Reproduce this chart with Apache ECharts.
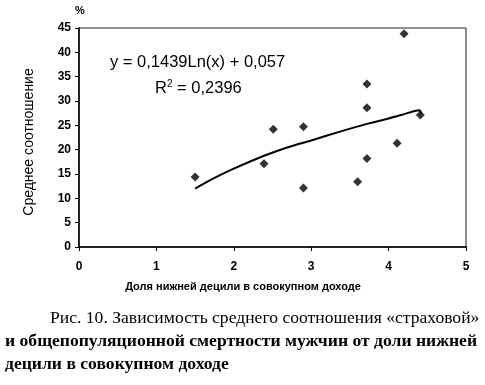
<!DOCTYPE html>
<html><head><meta charset="utf-8">
<script src="https://cdn.jsdelivr.net/npm/echarts@6/dist/echarts.min.js"></script>
<style>html,body{margin:0;padding:0;background:#fff}#c{width:485px;height:385px}</style>
</head><body><div id="c"></div>
<script>
const pointsX = [1.50, 2.39, 2.51, 2.90, 2.90, 3.60, 3.72, 3.72, 3.72, 4.11, 4.20, 4.41];
const pointsY = [14.4, 17.1, 24.2, 24.7, 12.1, 13.4, 33.5, 28.6, 18.2, 21.3, 43.8, 27.1];
const trendX = [1.50, 1.75, 2.00, 2.40, 2.70, 3.00, 3.35, 3.72, 4.00, 4.20, 4.35, 4.40, 4.42];
const trendY = [12.0, 14.2, 16.1, 18.8, 20.5, 21.9, 23.6, 25.3, 26.4, 27.3, 28.0, 28.1, 27.4];
const xTicks = [0, 1, 2, 3, 4, 5];
const yTicks = [0, 5, 10, 15, 20, 25, 30, 35, 40, 45];
const equationText = 'y = 0,1439Ln(x) + 0,057';
const r2Text = '0,2396';
const yUnit = '%';
const yAxisTitle = 'Среднее соотношение';
const xAxisTitle = 'Доля нижней децили в совокупном доходе';
const captionLines = [
  'Рис. 10. Зависимость среднего соотношения «страховой»',
  'и общепопуляционной смертности мужчин от доли нижней',
  'децили в совокупном доходе'
];

const chart = echarts.init(document.getElementById('c'));
const axisFont = {fontFamily: 'Arial, Liberation Sans', fontSize: 12, color: '#000', fontWeight: 'bold'};
chart.setOption({
  animation: false,
  backgroundColor: '#fff',
  grid: {left: 79, right: 19, top: 28, bottom: 138, show: true, borderColor: '#222', borderWidth: 1, backgroundColor: 'transparent'},
  xAxis: {
    type: 'value', min: xTicks[0], max: xTicks[xTicks.length-1], interval: 1,
    axisLine: {show: true, lineStyle: {color: '#000', width: 1.5}},
    axisTick: {show: true, inside: false, length: 4, lineStyle: {color: '#000'}},
    splitLine: {show: false},
    axisLabel: Object.assign({margin: 14}, axisFont)
  },
  yAxis: {
    type: 'value', min: yTicks[0], max: yTicks[yTicks.length-1], interval: 5,
    axisLine: {show: true, lineStyle: {color: '#000', width: 1.5}},
    axisTick: {show: true, length: 4, lineStyle: {color: '#000'}},
    splitLine: {show: false},
    axisLabel: Object.assign({margin: 8}, axisFont)
  },
  series: [
    {
      type: 'line', data: trendX.map((x, i) => [x, trendY[i]]),
      showSymbol: false, smooth: 0.3,
      lineStyle: {color: '#000', width: 2}, z: 2
    },
    {
      type: 'scatter', data: pointsX.map((x, i) => [x, pointsY[i]]),
      symbol: 'diamond', symbolSize: 9,
      itemStyle: {color: '#000'}, z: 3
    }
  ],
  graphic: [
    {type: 'text', left: 75, top: 5, style: {text: yUnit, font: 'bold 11px Arial, Liberation Sans', fill: '#000'}},
    {type: 'text', x: 29, y: 142, rotation: Math.PI/2, style: {text: yAxisTitle, font: '14px Arial, Liberation Sans', fill: '#000', align: 'center', verticalAlign: 'middle'}},
    {type: 'text', x: 243, y: 287, style: {text: xAxisTitle, font: 'bold 11px Arial, Liberation Sans', fill: '#000', align: 'center', verticalAlign: 'middle'}},
    {type: 'text', x: 110, y: 62, style: {text: equationText, font: '16.5px Arial, Liberation Sans', fill: '#000', verticalAlign: 'middle'}},
    {type: 'text', x: 155, y: 88, style: {
      text: '{a|R}{s|2}{a| = ' + r2Text + '}',
      verticalAlign: 'middle',
      rich: {
        a: {font: '16.5px Arial, Liberation Sans', color: '#000'},
        s: {font: '10px Arial, Liberation Sans', color: '#000', verticalAlign: 'top', padding: [0,0,8,0]}
      }
    }},
    {type: 'text', x: 50, y: 318, style: {text: captionLines[0], font: '17.6px Liberation Serif, Times New Roman', fill: '#000', verticalAlign: 'middle'}},
    {type: 'text', x: 5, y: 341, style: {text: captionLines[1], font: 'bold 17.6px Liberation Serif, Times New Roman', fill: '#000', verticalAlign: 'middle'}},
    {type: 'text', x: 5, y: 364, style: {text: captionLines[2], font: 'bold 17.6px Liberation Serif, Times New Roman', fill: '#000', verticalAlign: 'middle'}}
  ]
});
</script></body></html>
